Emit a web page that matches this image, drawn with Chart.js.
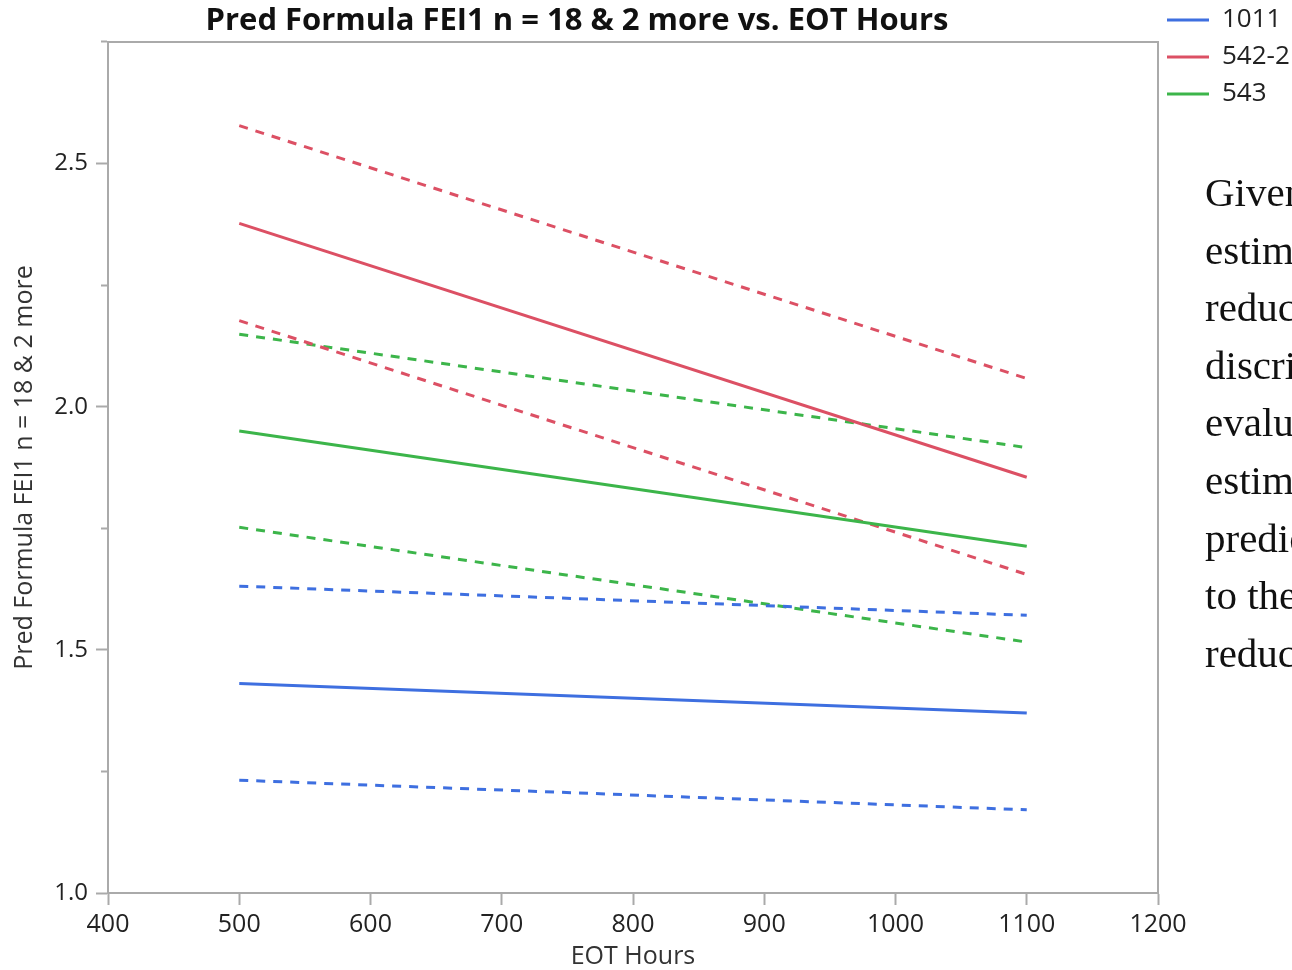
<!DOCTYPE html>
<html>
<head>
<meta charset="utf-8">
<script src="https://cdn.jsdelivr.net/npm/chart.js@4.4.1/dist/chart.umd.min.js"></script>
<style>
  html, body { margin: 0; padding: 0; background: #ffffff; overflow: hidden; }
  #wrap { position: relative; width: 1292px; height: 970px; overflow: hidden; }
  #c { position: absolute; left: 0; top: 0; }
  #side {
    position: absolute; left: 1205px; top: 164px; width: 87px; overflow: hidden;
    font-family: "Liberation Serif", "DejaVu Serif", serif; font-size: 41px;
    line-height: 57.6px; color: #111; white-space: nowrap;
  }
</style>
</head>
<body>
<div id="wrap">
  <canvas id="c" width="1292" height="970"></canvas>
  <div id="side">Given the<br>estimated<br>reduction<br>discrimination<br>evaluation<br>estimated<br>predicted<br>to the<br>reduction</div>
</div>
<script>
// ---- data ----
const hours = [500, 1100];
const groups = ["1011", "542-2", "543"];
const fit1011 = [1.431, 1.370];
const upper1011 = [1.631, 1.571];
const lower1011 = [1.232, 1.171];
const fit5422 = [2.377, 1.855];
const upper5422 = [2.578, 2.058];
const lower5422 = [2.177, 1.655];
const fit543 = [1.950, 1.713];
const upper543 = [2.149, 1.916];
const lower543 = [1.752, 1.516];
const xTicks = [400, 500, 600, 700, 800, 900, 1000, 1100, 1200];
const yTicks = [1.0, 1.5, 2.0, 2.5];

const BLUE = "#3e6fe0", RED = "#dc5064", GREEN = "#3cb54a";
const FONT = '"Open Sans", "Noto Sans", sans-serif';

function pts(vals) { return hours.map((h, i) => ({ x: h, y: vals[i] })); }
function ds(label, vals, color, dashed) {
  return {
    label: label, data: pts(vals), borderColor: color, backgroundColor: color,
    borderWidth: 3, borderDash: dashed ? [9, 8] : [], pointRadius: 0,
    fill: false, tension: 0, isBand: dashed
  };
}

const datasets = [
  ds(groups[0], fit1011, BLUE, false),
  ds(groups[1], fit5422, RED, false),
  ds(groups[2], fit543, GREEN, false),
  ds(groups[0] + " upper", upper1011, BLUE, true),
  ds(groups[0] + " lower", lower1011, BLUE, true),
  ds(groups[1] + " upper", upper5422, RED, true),
  ds(groups[1] + " lower", lower5422, RED, true),
  ds(groups[2] + " upper", upper543, GREEN, true),
  ds(groups[2] + " lower", lower543, GREEN, true)
];

const AXIS = "#aaaaaa";

const framePlugin = {
  id: "frame",
  afterLayout(chart) {
    // title centred over the graph frame region, legend at top right
    chart.titleBlock.right = 1154;
    const lg = chart.legend;
    lg.left = chart.chartArea.right - 2;
    lg.right = chart.width;
    lg.width = lg.right - lg.left;
    lg.top = -4;
  },
  afterDatasetsDraw(chart) {
    const a = chart.chartArea, ctx = chart.ctx;
    ctx.save();
    ctx.strokeStyle = AXIS;
    ctx.lineWidth = 2;
    ctx.beginPath();
    ctx.moveTo(a.left, a.top);
    ctx.lineTo(a.right, a.top);
    ctx.lineTo(a.right, a.bottom);
    ctx.stroke();
    ctx.restore();
  }
};

new Chart(document.getElementById("c"), {
  type: "line",
  data: { datasets: datasets },
  plugins: [framePlugin],
  options: {
    responsive: false,
    animation: false,
    layout: { padding: { right: 14 } },
    plugins: {
      title: {
        display: true,
        text: "Pred Formula FEI1 n = 18 & 2 more vs. EOT Hours",
        color: "#111",
        font: { family: FONT, size: 31, weight: "bold", lineHeight: 1.2 },
        padding: { top: 3, bottom: 1.8 }
      },
      legend: {
        position: "right",
        align: "start",
        maxWidth: 120,
        labels: {
          usePointStyle: true,
          pointStyle: "line",
          pointStyleWidth: 42,
          padding: 11,
          color: "#222",
          font: { family: FONT, size: 26 },
          filter: (item, data) => !data.datasets[item.datasetIndex].isBand
        }
      },
      tooltip: { enabled: false }
    },
    scales: {
      x: {
        type: "linear",
        min: 400, max: 1200,
        afterBuildTicks: (s) => { s.ticks = xTicks.map(v => ({ value: v })); },
        afterFit: (s) => { s.height = 77; },
        grid: { drawOnChartArea: false, drawTicks: true, tickLength: 12, tickColor: AXIS, tickWidth: 2 },
        border: { display: true, color: AXIS, width: 2 },
        ticks: { color: "#222", padding: 5, font: { family: FONT, size: 25 }, maxRotation: 0,
                 callback: (v) => String(v) },
        title: { display: true, text: "EOT Hours", color: "#333", font: { family: FONT, size: 25 }, padding: { top: 0, bottom: -2 } }
      },
      y: {
        type: "linear",
        min: 1.0, max: 2.75,
        afterBuildTicks: (s) => {
          const t = [];
          for (let v = 1.0; v <= 2.7501; v += 0.25) t.push({ value: Math.round(v * 100) / 100 });
          s.ticks = t;
        },
        afterFit: (s) => { s.width = 108; },
        grid: {
          drawOnChartArea: false, drawTicks: true, tickLength: 12, tickColor: AXIS, tickWidth: 2,
          tickBorderDash: (ctx) => (ctx.tick && yTicks.some(v => Math.abs(v - ctx.tick.value) < 1e-6)) ? [] : [0, 5, 7, 100]
        },
        border: { display: true, color: AXIS, width: 2 },
        ticks: {
          color: "#222", padding: 8, font: { family: FONT, size: 24 },
          callback: (v) => yTicks.some(t => Math.abs(t - v) < 1e-6) ? Number(v).toFixed(1) : ""
        },
        title: { display: true, text: "Pred Formula FEI1 n = 18 & 2 more", color: "#333", font: { family: FONT, size: 25 }, padding: { top: 10, bottom: 0 } }
      }
    }
  }
});
</script>
</body>
</html>
